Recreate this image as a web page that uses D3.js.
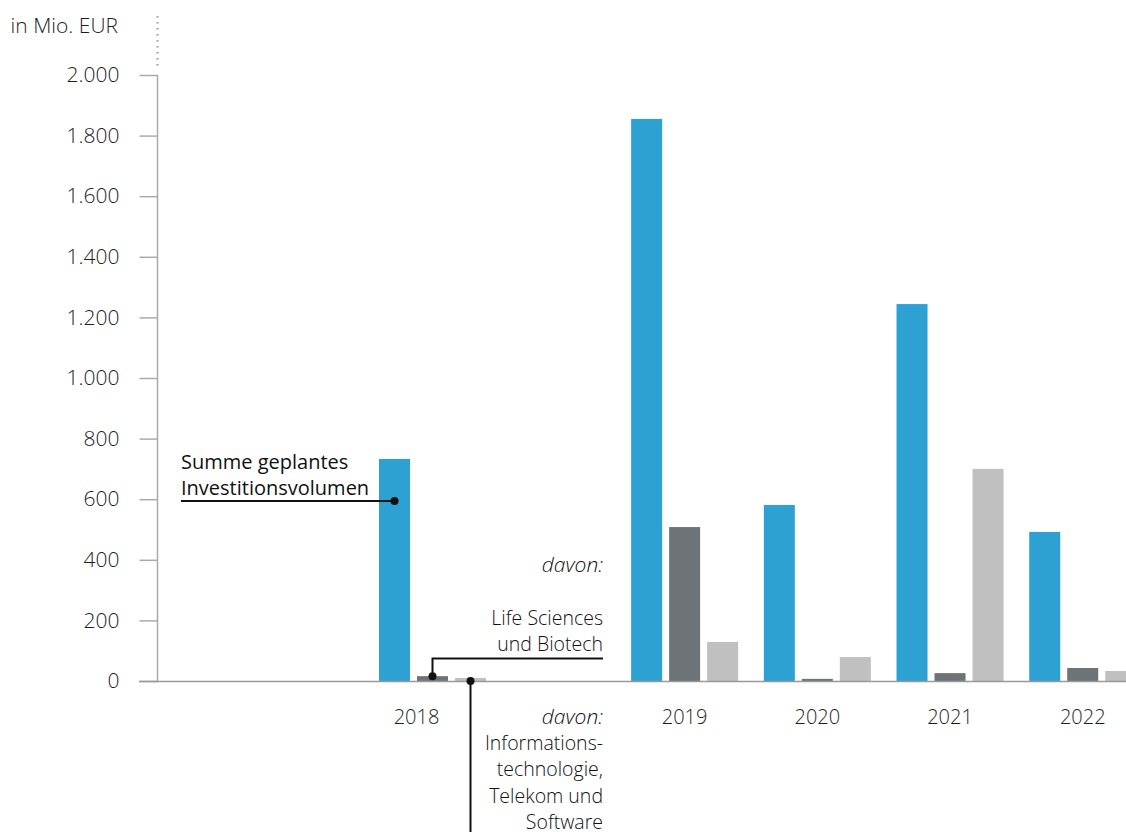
<!DOCTYPE html>
<html>
<head>
<meta charset="utf-8">
<script src="https://cdn.jsdelivr.net/npm/d3@7"></script>
<style>
  body { margin: 0; background: #fff; }
  svg { display: block; font-family: "Open Sans", sans-serif; }
</style>
</head>
<body>
<div id="chart"></div>
<script>
// data
const years = ['2018', '2019', '2020', '2021', '2022'];
const series = ['summe', 'life', 'it'];
const summe = [733, 1855, 581, 1244, 492];
const lifeSciences = [16, 508, 7, 26, 43];
const itTelekom = [10, 129, 79, 700, 33];
const yTicks = [0, 200, 400, 600, 800, 1000, 1200, 1400, 1600, 1800, 2000];

const colors = { summe: '#2ea1d3', life: '#6d7377', it: '#c0c0c0' };

const width = 1126;
const height = 832;
const textColor = '#1e1e1e';

const svg = d3.select('#chart')
  .append('svg')
  .attr('width', width)
  .attr('height', height);

// scales
const y = d3.scaleLinear().domain([0, 2000]).range([681, 75]);

// 2018 sits apart from the others, leaving room for the annotations
const gap2018 = 0.9;
const slot = i => (i === 0 ? 0 : i + gap2018);
const x = d3.scaleLinear().domain([0, 1]).range([379, 511.7]);

const inner = d3.scaleBand()
  .domain(series)
  .range([0, 107])
  .paddingInner(0.184);

const fmt = d3.formatLocale({ decimal: ',', thousands: '.', grouping: [3], currency: ['', '€'] }).format(',d');

// y axis
const yAxis = svg.append('g')
  .attr('transform', 'translate(157.5,0)')
  .call(d3.axisLeft(y).tickValues(yTicks).tickFormat(fmt).tickSize(18).tickPadding(20));
yAxis.attr('font-family', null).attr('font-size', null);
yAxis.select('.domain').remove();
yAxis.selectAll('.tick line').attr('stroke', '#aaa').attr('stroke-width', 1.5);
yAxis.selectAll('.tick text')
  .attr('fill', textColor)
  .style('font-size', '21px')
  .style('font-weight', 300);

svg.append('line')
  .attr('x1', 157.5).attr('x2', 157.5)
  .attr('y1', y(2000)).attr('y2', y(0))
  .attr('stroke', '#aaa').attr('stroke-width', 1.5);

svg.append('line')
  .attr('x1', 157.5).attr('x2', 157.5)
  .attr('y1', 16).attr('y2', 70)
  .attr('stroke', '#999').attr('stroke-width', 2)
  .attr('stroke-dasharray', '1.5,4.5');

svg.append('text')
  .attr('x', 118).attr('y', 33)
  .attr('text-anchor', 'end')
  .attr('fill', textColor)
  .style('font-size', '21px')
  .style('font-weight', 300)
  .text('in Mio. EUR');

// bars
const rows = years.map((yr, i) => ({
  year: yr,
  i,
  values: [
    { key: 'summe', v: summe[i] },
    { key: 'life', v: lifeSciences[i] },
    { key: 'it', v: itTelekom[i] },
  ],
}));

const groups = svg.selectAll('.group')
  .data(rows)
  .enter()
  .append('g')
  .attr('class', 'group')
  .attr('transform', d => `translate(${x(slot(d.i))},0)`);

groups.selectAll('rect')
  .data(d => d.values)
  .enter()
  .append('rect')
  .attr('x', d => inner(d.key))
  .attr('width', inner.bandwidth())
  .attr('y', d => y(d.v))
  .attr('height', d => y(0) - y(d.v))
  .attr('fill', d => colors[d.key]);

// baseline
svg.append('line')
  .attr('x1', 139).attr('x2', width)
  .attr('y1', y(0) + 0.5).attr('y2', y(0) + 0.5)
  .attr('stroke', '#999').attr('stroke-width', 1.5);

// year labels
groups.append('text')
  .attr('x', d => inner('life') + inner.bandwidth() / 2 + (d.i === 0 ? -16 : 0))
  .attr('y', 724)
  .attr('text-anchor', 'middle')
  .attr('fill', textColor)
  .style('font-size', '20px')
  .style('font-weight', 300)
  .text(d => d.year);

// annotations
const barCenter = (i, key) => x(slot(i)) + inner(key) + inner.bandwidth() / 2;

const ann = svg.append('g').attr('fill', '#111');

function lines(g, xPos, yStart, arr, anchor, weight, size) {
  arr.forEach((t, k) => {
    const el = g.append('text')
      .attr('x', xPos)
      .attr('y', yStart + k * 26.2)
      .attr('text-anchor', anchor)
      .style('font-size', (size || 19.5) + 'px')
      .style('font-weight', weight);
    if (t.italic) {
      el.style('font-style', 'italic').style('font-size', '21px').text(t.text);
    } else {
      el.text(t.text);
    }
  });
}

// Summe geplantes Investitionsvolumen
lines(ann, 181, 469, [{ text: 'Summe geplantes' }, { text: 'Investitionsvolumen' }], 'start', 400, 20);
const sx = barCenter(0, 'summe');
ann.append('line')
  .attr('x1', 181).attr('x2', sx)
  .attr('y1', 501).attr('y2', 501)
  .attr('stroke', '#111').attr('stroke-width', 2);
ann.append('circle').attr('cx', sx).attr('cy', 501).attr('r', 4);

// Life Sciences und Biotech
lines(ann, 603, 572, [{ text: 'davon:', italic: true }], 'end', 300);
lines(ann, 603, 625, [{ text: 'Life Sciences' }, { text: 'und Biotech' }], 'end', 300);
const lx = barCenter(0, 'life');
const ly = y(lifeSciences[0]);
ann.append('path')
  .attr('d', `M${lx},${ly}V658.5H603`)
  .attr('fill', 'none')
  .attr('stroke', '#111').attr('stroke-width', 2);
ann.append('circle').attr('cx', lx).attr('cy', ly).attr('r', 4);

// Informationstechnologie
lines(ann, 603, 724, [
  { text: 'davon:', italic: true },
  { text: 'Informations-' },
  { text: 'technologie,' },
  { text: 'Telekom und' },
  { text: 'Software' },
], 'end', 300);
const ix = barCenter(0, 'it');
ann.append('line')
  .attr('x1', ix).attr('x2', ix)
  .attr('y1', y(0)).attr('y2', height)
  .attr('stroke', '#111').attr('stroke-width', 2);
ann.append('circle').attr('cx', ix).attr('cy', y(0)).attr('r', 4);
</script>
</body>
</html>
